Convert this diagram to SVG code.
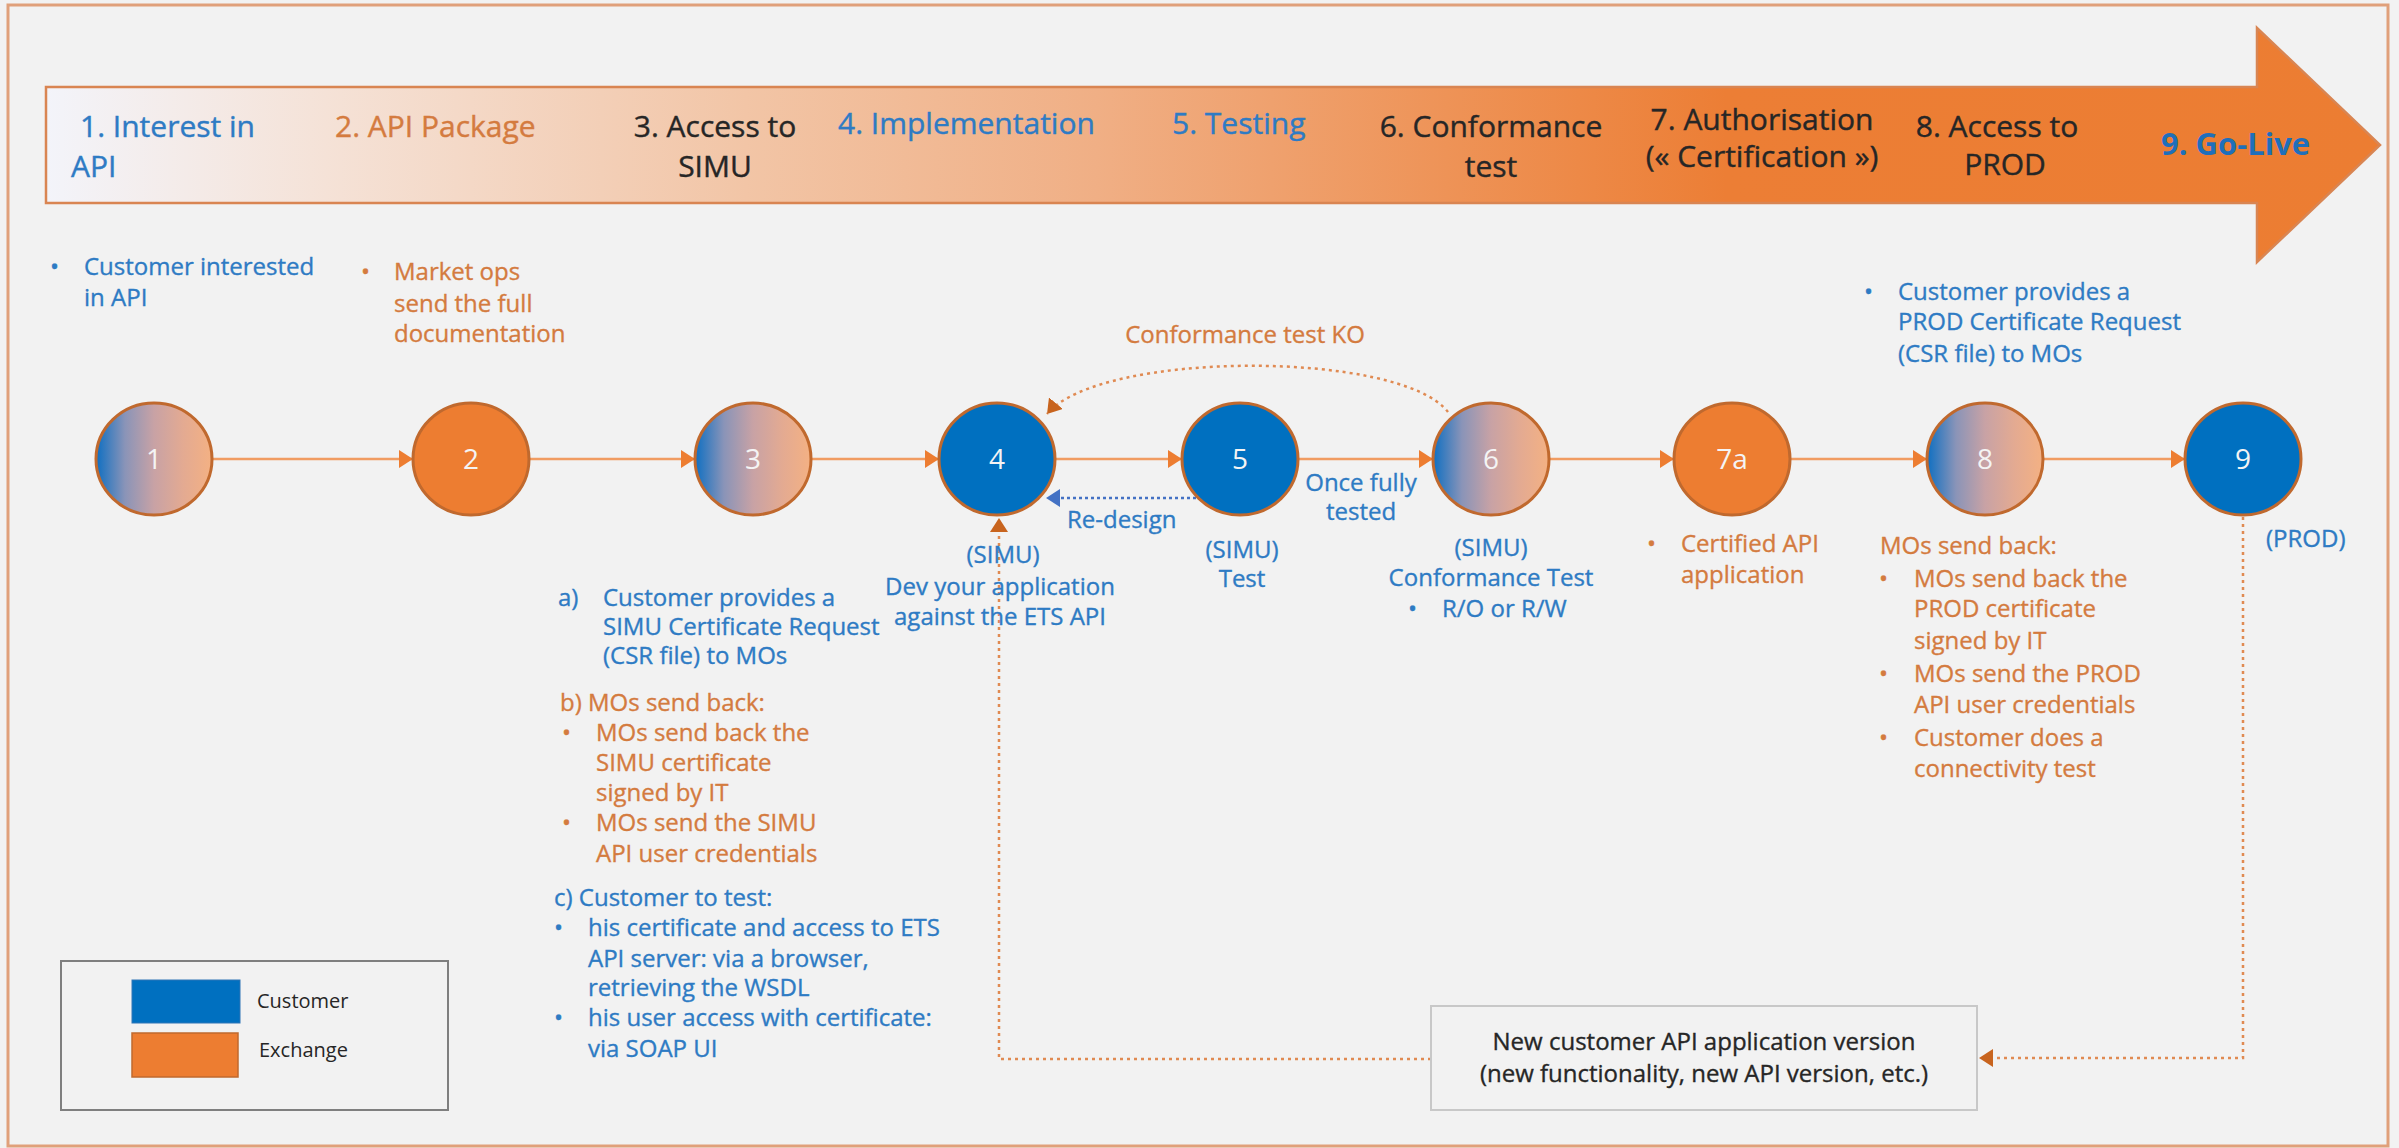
<svg xmlns="http://www.w3.org/2000/svg" width="2399" height="1148" viewBox="0 0 2399 1148">
<style>
text{font-family:"Open Sans","Liberation Sans",sans-serif;}
.h{font-size:30px;stroke-width:0.4;}
.b{font-size:24px;stroke-width:0.35;}
.blue{fill:#2e7bc4;stroke:#2e7bc4;}
.orange{fill:#d47b3f;stroke:#d47b3f;}
.dark{fill:#262626;stroke:#262626;}
.num{font-size:28px;fill:#f4f4f4;text-anchor:middle;}
.mid{text-anchor:middle;}
.conn{stroke:#f19c62;stroke-width:2.5;fill:none;}
.dot{stroke:#e08a52;stroke-width:2.5;fill:none;stroke-dasharray:3 4;}
.circ{stroke:#c0692e;stroke-width:3;}
</style>
<defs>
<linearGradient id="arrowGrad" gradientUnits="userSpaceOnUse" x1="46" y1="0" x2="2380" y2="0">
<stop offset="0" stop-color="#f3f4fa"/>
<stop offset="0.12" stop-color="#f5e2d7"/>
<stop offset="0.3" stop-color="#f2c5a6"/>
<stop offset="0.45" stop-color="#f0af85"/>
<stop offset="0.6" stop-color="#ee9357"/>
<stop offset="0.72" stop-color="#ec7e35"/>
<stop offset="1" stop-color="#ec7d32"/>
</linearGradient>
<linearGradient id="mixGrad" x1="0" y1="0" x2="1" y2="0">
<stop offset="0" stop-color="#0e6fc2"/>
<stop offset="0.25" stop-color="#8a94b8"/>
<stop offset="0.5" stop-color="#c8a2a5"/>
<stop offset="0.75" stop-color="#e3aa92"/>
<stop offset="1" stop-color="#f4b183"/>
</linearGradient>
<marker id="ah" viewBox="0 0 14 18" refX="14" refY="9" markerWidth="14" markerHeight="18" markerUnits="userSpaceOnUse" orient="auto">
<path d="M0,0 L14,9 L0,18 z" fill="#ed7d31"/>
</marker>
<marker id="ahd" viewBox="0 0 14 18" refX="14" refY="9" markerWidth="14" markerHeight="18" markerUnits="userSpaceOnUse" orient="auto">
<path d="M0,0 L14,9 L0,18 z" fill="#c8641e"/>
</marker>
<marker id="ahb" viewBox="0 0 14 18" refX="14" refY="9" markerWidth="14" markerHeight="18" markerUnits="userSpaceOnUse" orient="auto">
<path d="M0,0 L14,9 L0,18 z" fill="#4472c4"/>
</marker>
</defs>

<rect x="0" y="0" width="2399" height="1148" fill="#f2f2f2"/>
<rect id="frame" x="8" y="5" width="2380" height="1141" fill="none" stroke="#e0a07a" stroke-width="3"/>

<g id="phase-arrow">
<path d="M46,87 L2257,87 L2257,28 L2380,145 L2257,262 L2257,203 L46,203 Z" fill="url(#arrowGrad)" stroke="#d98552" stroke-width="2.5"/>
<text class="h blue" x="80" y="137">1. Interest in</text>
<text class="h blue" x="71" y="177">API</text>
<text class="h orange" x="335" y="137">2. API Package</text>
<text class="h dark mid" x="715" y="137">3. Access to</text>
<text class="h dark mid" x="715" y="177">SIMU</text>
<text class="h blue" x="838" y="134">4. Implementation</text>
<text class="h blue" x="1172" y="134">5. Testing</text>
<text class="h dark mid" x="1491" y="137">6. Conformance</text>
<text class="h dark mid" x="1491" y="177">test</text>
<text class="h dark mid" x="1762" y="130">7. Authorisation</text>
<text class="h dark mid" x="1762" y="167">(« Certification »)</text>
<text class="h dark mid" x="1997" y="137">8. Access to</text>
<text class="h dark mid" x="2005" y="175">PROD</text>
<text x="2161" y="155" font-size="31" font-weight="bold" fill="#1f6fba">9. Go-Live</text>
</g>

<g id="connectors">
<line class="conn" x1="212" y1="459" x2="413" y2="459" marker-end="url(#ah)"/>
<line class="conn" x1="530" y1="459" x2="695" y2="459" marker-end="url(#ah)"/>
<line class="conn" x1="812" y1="459" x2="939" y2="459" marker-end="url(#ah)"/>
<line class="conn" x1="1055" y1="459" x2="1182" y2="459" marker-end="url(#ah)"/>
<line class="conn" x1="1298" y1="459" x2="1433" y2="459" marker-end="url(#ah)"/>
<line class="conn" x1="1549" y1="459" x2="1674" y2="459" marker-end="url(#ah)"/>
<line class="conn" x1="1790" y1="459" x2="1927" y2="459" marker-end="url(#ah)"/>
<line class="conn" x1="2043" y1="459" x2="2185" y2="459" marker-end="url(#ah)"/>
<path class="dot" d="M1448,412 C1400,350 1100,350 1047,414" marker-end="url(#ahd)"/>
<line x1="1196" y1="498" x2="1046" y2="498" stroke="#4472c4" stroke-width="2.5" stroke-dasharray="3 3" marker-end="url(#ahb)"/>
<path class="dot" d="M1431,1059 L999,1059 L999,518" marker-end="url(#ahd)"/>
<path class="dot" d="M2243,517 L2243,1058 L1979,1058" marker-end="url(#ahd)"/>
<text class="b orange mid" x="1245" y="343">Conformance test KO</text>
<text class="b blue" x="1067" y="528">Re-design</text>
<text class="b blue mid" x="1361" y="491">Once fully</text>
<text class="b blue mid" x="1361" y="520">tested</text>
</g>

<g id="node-1">
<ellipse class="circ" cx="154" cy="459" rx="58" ry="56" fill="url(#mixGrad)"/>
<text class="num" x="154" y="469">1</text>
<text class="b blue" x="50" y="275">•</text>
<text class="b blue" x="84" y="275">Customer interested</text>
<text class="b blue" x="84" y="306">in API</text>
</g>

<g id="node-2">
<ellipse class="circ" cx="471" cy="459" rx="58" ry="56" fill="#ed7d31"/>
<text class="num" x="471" y="469">2</text>
<text class="b orange" x="361" y="280">•</text>
<text class="b orange" x="394" y="280">Market ops</text>
<text class="b orange" x="394" y="312">send the full</text>
<text class="b orange" x="394" y="342">documentation</text>
</g>

<g id="node-3">
<ellipse class="circ" cx="753" cy="459" rx="58" ry="56" fill="url(#mixGrad)"/>
<text class="num" x="753" y="469">3</text>
<text class="b blue" x="558" y="606">a)</text>
<text class="b blue" x="603" y="606">Customer provides a</text>
<text class="b blue" x="603" y="635">SIMU Certificate Request</text>
<text class="b blue" x="603" y="664">(CSR file) to MOs</text>
<text class="b orange" x="560" y="711">b) MOs send back:</text>
<text class="b orange" x="562" y="741">•</text>
<text class="b orange" x="596" y="741">MOs send back the</text>
<text class="b orange" x="596" y="771">SIMU certificate</text>
<text class="b orange" x="596" y="801">signed by IT</text>
<text class="b orange" x="562" y="831">•</text>
<text class="b orange" x="596" y="831">MOs send the SIMU</text>
<text class="b orange" x="596" y="862">API user credentials</text>
<text class="b blue" x="554" y="906">c) Customer to test:</text>
<text class="b blue" x="554" y="936">•</text>
<text class="b blue" x="588" y="936">his certificate and access to ETS</text>
<text class="b blue" x="588" y="967">API server: via a browser,</text>
<text class="b blue" x="588" y="996">retrieving the WSDL</text>
<text class="b blue" x="554" y="1026">•</text>
<text class="b blue" x="588" y="1026">his user access with certificate:</text>
<text class="b blue" x="588" y="1057">via SOAP UI</text>
</g>

<g id="node-4">
<ellipse class="circ" cx="997" cy="459" rx="58" ry="56" fill="#0070c0"/>
<text class="num" x="997" y="469">4</text>
<text class="b blue mid" x="1003" y="563">(SIMU)</text>
<text class="b blue mid" x="1000" y="595">Dev your application</text>
<text class="b blue mid" x="1000" y="625">against the ETS API</text>
</g>

<g id="node-5">
<ellipse class="circ" cx="1240" cy="459" rx="58" ry="56" fill="#0070c0"/>
<text class="num" x="1240" y="469">5</text>
<text class="b blue mid" x="1242" y="558">(SIMU)</text>
<text class="b blue mid" x="1242" y="587">Test</text>
</g>

<g id="node-6">
<ellipse class="circ" cx="1491" cy="459" rx="58" ry="56" fill="url(#mixGrad)"/>
<text class="num" x="1491" y="469">6</text>
<text class="b blue mid" x="1491" y="556">(SIMU)</text>
<text class="b blue mid" x="1491" y="586">Conformance Test</text>
<text class="b blue" x="1408" y="617">•</text>
<text class="b blue" x="1442" y="617">R/O or R/W</text>
</g>

<g id="node-7a">
<ellipse class="circ" cx="1732" cy="459" rx="58" ry="56" fill="#ed7d31"/>
<text class="num" x="1732" y="469">7a</text>
<text class="b orange" x="1647" y="552">•</text>
<text class="b orange" x="1681" y="552">Certified API</text>
<text class="b orange" x="1681" y="583">application</text>
</g>

<g id="node-8">
<ellipse class="circ" cx="1985" cy="459" rx="58" ry="56" fill="url(#mixGrad)"/>
<text class="num" x="1985" y="469">8</text>
<text class="b blue" x="1864" y="300">•</text>
<text class="b blue" x="1898" y="300">Customer provides a</text>
<text class="b blue" x="1898" y="330">PROD Certificate Request</text>
<text class="b blue" x="1898" y="362">(CSR file) to MOs</text>
<text class="b orange" x="1880" y="554">MOs send back:</text>
<text class="b orange" x="1879" y="587">•</text>
<text class="b orange" x="1914" y="587">MOs send back the</text>
<text class="b orange" x="1914" y="617">PROD certificate</text>
<text class="b orange" x="1914" y="649">signed by IT</text>
<text class="b orange" x="1879" y="682">•</text>
<text class="b orange" x="1914" y="682">MOs send the PROD</text>
<text class="b orange" x="1914" y="713">API user credentials</text>
<text class="b orange" x="1879" y="746">•</text>
<text class="b orange" x="1914" y="746">Customer does a</text>
<text class="b orange" x="1914" y="777">connectivity test</text>
</g>

<g id="node-9">
<ellipse class="circ" cx="2243" cy="459" rx="58" ry="56" fill="#0070c0"/>
<text class="num" x="2243" y="469">9</text>
<text class="b blue" x="2266" y="547">(PROD)</text>
</g>

<g id="new-version">
<rect x="1431" y="1006" width="546" height="104" fill="#f2f2f2" stroke="#c8c8c8" stroke-width="2"/>
<text class="b dark mid" x="1704" y="1050">New customer API application version</text>
<text class="b dark mid" x="1704" y="1082">(new functionality, new API version, etc.)</text>
</g>

<g id="legend">
<rect x="61" y="961" width="387" height="149" fill="#f2f2f2" stroke="#7f7f7f" stroke-width="2"/>
<rect x="132" y="980" width="108" height="43" fill="#0070c0" stroke="#2e75b6" stroke-width="1"/>
<rect x="132" y="1033" width="106" height="44" fill="#ed7d31" stroke="#c0692e" stroke-width="1.5"/>
<text x="257" y="1008" font-size="20" fill="#262626">Customer</text>
<text x="259" y="1057" font-size="20" fill="#262626">Exchange</text>
</g>
</svg>
